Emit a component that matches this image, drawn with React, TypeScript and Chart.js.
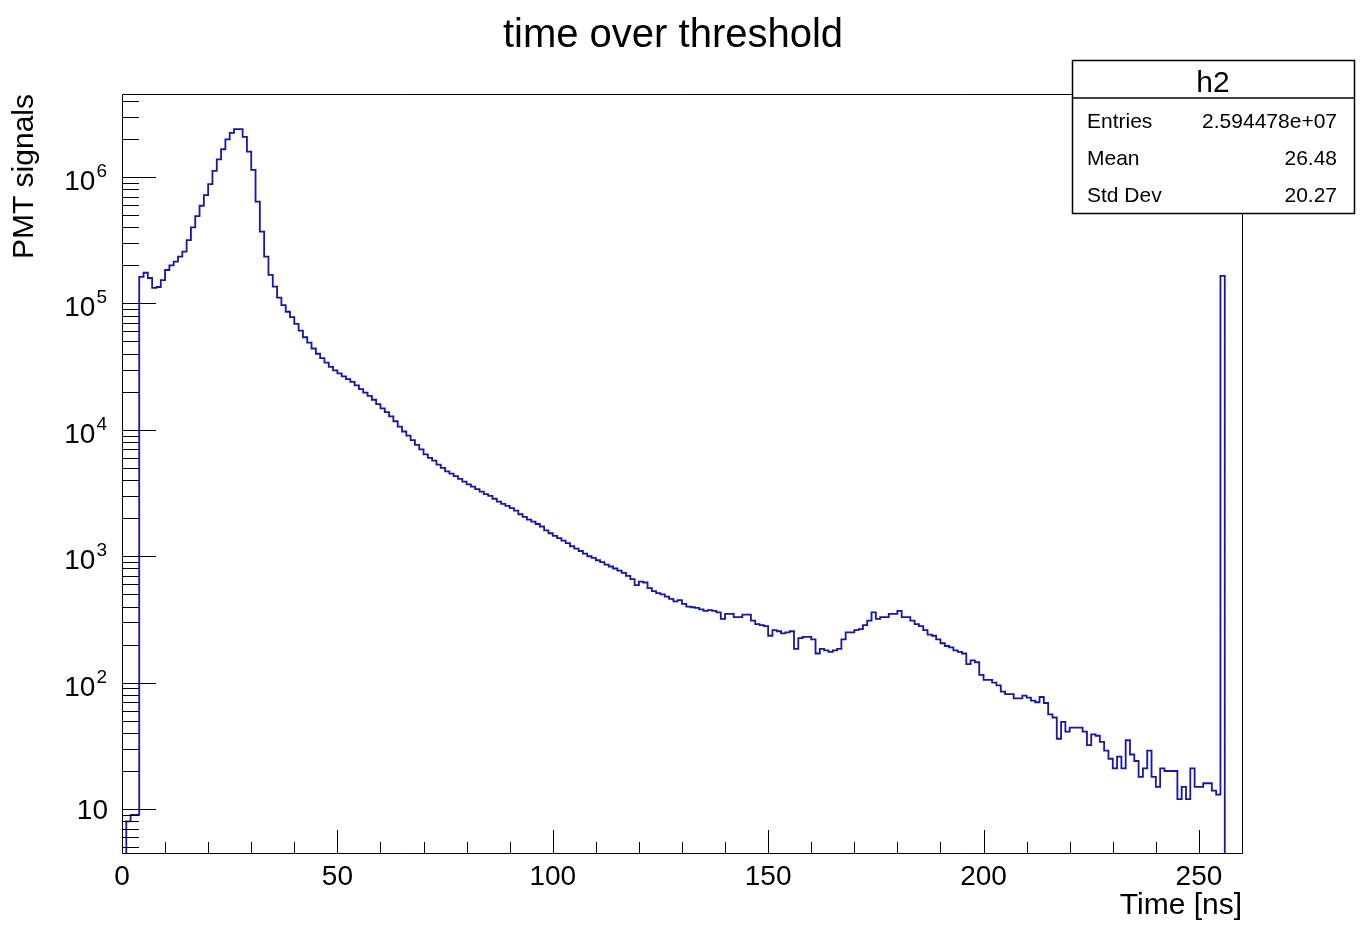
import React, { useEffect, useRef } from "react";
import { Chart, registerables } from "chart.js";

Chart.register(...registerables);

// ---------- data ----------
const chartTitle = "time over threshold";
const xAxisTitle = "Time [ns]";
const yAxisTitle = "PMT signals";
const xMin = 0;
const xMax = 260;
const yMin = 4.49;
const yMax = 4.54e6;
const binWidth = 1;
const xLabelTicks = [0, 50, 100, 150, 200, 250];
const xMinorStep = 10;
const yDecadeExponents = [1, 2, 3, 4, 5, 6];
const statsName = "h2";
const statsLabels = ["Entries", "Mean", "Std Dev"];
const statsValues = ["2.594478e+07", "26.48", "20.27"];

// counts per 1 ns bin, bins 0..259
const counts = [
  0, 8, 9, 9, 1.62e5, 1.75e5, 1.59e5, 1.33e5, 1.35e5, 1.53e5,
  1.84e5, 2.0e5, 2.14e5, 2.35e5, 2.57e5, 3.17e5, 4.0e5, 4.9e5, 5.93e5, 7.2e5,
  8.8e5, 1.12e6, 1.38e6, 1.66e6, 1.99e6, 2.24e6, 2.39e6, 2.39e6, 2.08e6, 1.59e6,
  1.14e6, 6.4e5, 3.7e5, 2.35e5, 1.68e5, 1.36e5, 1.11e5, 9.7e4, 8.6e4, 7.8e4,
  6.9e4, 6.1e4, 5.4e4, 4.9e4, 4.4e4, 4.0e4, 3.7e4, 3.4e4, 3.15e4, 2.95e4,
  2.8e4, 2.65e4, 2.52e4, 2.4e4, 2.25e4, 2.1e4, 1.97e4, 1.86e4, 1.73e4, 1.6e4,
  1.48e4, 1.38e4, 1.28e4, 1.17e4, 1.06e4, 9.7e3, 9.0e3, 8.3e3, 7.6e3, 7.0e3,
  6.4e3, 6.0e3, 5.7e3, 5.3e3, 5.0e3, 4.7e3, 4.5e3, 4.3e3, 4.1e3, 3.9e3,
  3.7e3, 3.55e3, 3.4e3, 3.25e3, 3.1e3, 3.0e3, 2.85e3, 2.7e3, 2.6e3, 2.5e3,
  2.4e3, 2.3e3, 2.15e3, 2.05e3, 1.95e3, 1.88e3, 1.8e3, 1.72e3, 1.6e3, 1.52e3,
  1.45e3, 1.39e3, 1.33e3, 1.27e3, 1.2e3, 1.15e3, 1.1e3, 1.05e3, 1.0e3, 970,
  930, 900, 860, 830, 800, 770, 740, 700, 660, 590,
  630, 620, 560, 530, 510, 500, 480, 460, 440, 450,
  420, 400, 395, 390, 380, 370, 375, 370, 360, 320,
  350, 350, 330, 330, 345, 345, 310, 290, 285, 280,
  235, 260, 255, 245, 250, 255, 185, 225, 230, 230,
  220, 170, 185, 180, 175, 180, 185, 220, 250, 250,
  260, 265, 285, 310, 360, 320, 330, 330, 350, 350,
  370, 330, 330, 310, 290, 280, 260, 240, 235, 220,
  205, 195, 190, 180, 175, 170, 140, 150, 145, 115,
  105, 105, 100, 95, 85, 81, 81, 75, 75, 79,
  76, 72, 70, 77, 69, 56, 53, 36, 49, 41,
  44, 44, 44, 41, 32, 39, 38, 34, 29, 25,
  21, 26, 21, 35, 27, 24, 18, 21, 29, 18,
  15, 21, 20, 20, 20, 12, 15, 12, 21, 15,
  15, 16, 16, 14, 13, 1.65e5, 0, 0, 0, 0,
];

const FONT = "'Liberation Sans', Arial, Helvetica, sans-serif";
const LINE_BLUE = "#1616aa";

const rootStylePlugin = {
  id: "rootStyle",
  afterDraw(chart: any) {
    const ctx: CanvasRenderingContext2D = chart.ctx;
    const { left, right, top, bottom } = chart.chartArea;
    const xs = chart.scales.x;
    const ys = chart.scales.y;
    ctx.save();
    ctx.strokeStyle = "#000";
    ctx.fillStyle = "#000";
    ctx.lineWidth = 1;

    // frame
    ctx.beginPath();
    ctx.rect(Math.round(left) + 0.5, Math.round(top) + 0.5, Math.round(right - left), Math.round(bottom - top));
    ctx.stroke();

    // x ticks (inside, upward)
    ctx.beginPath();
    for (let v = xMin; v <= xMax; v += xMinorStep) {
      const px = Math.round(xs.getPixelForValue(v)) + 0.5;
      const major = xLabelTicks.includes(v);
      const len = major ? 23 : 11;
      ctx.moveTo(px, bottom);
      ctx.lineTo(px, bottom - len);
    }
    ctx.stroke();

    // y ticks (inside, rightward)
    ctx.beginPath();
    for (let d = 0; d <= 6; d++) {
      for (let m = 1; m <= 9; m++) {
        const v = m * Math.pow(10, d);
        if (v < yMin || v > yMax) continue;
        const py = Math.round(ys.getPixelForValue(v)) + 0.5;
        const len = m === 1 ? 34 : 17;
        ctx.moveTo(left, py);
        ctx.lineTo(left + len, py);
      }
    }
    ctx.stroke();

    // x labels
    ctx.font = `28px ${FONT}`;
    ctx.textAlign = "center";
    ctx.textBaseline = "alphabetic";
    for (const v of xLabelTicks) {
      ctx.fillText(String(v), xs.getPixelForValue(v), 885);
    }

    // y labels
    const labelRight = 107;
    for (const e of yDecadeExponents) {
      const py = ys.getPixelForValue(Math.pow(10, e));
      if (e === 1) {
        ctx.font = `28px ${FONT}`;
        ctx.textAlign = "right";
        ctx.fillText("10", labelRight + 1, py + 10);
      } else {
        ctx.font = `19px ${FONT}`;
        const es = String(e);
        const ew = ctx.measureText(es).width;
        ctx.textAlign = "left";
        ctx.fillText(es, labelRight - ew, py);
        ctx.font = `28px ${FONT}`;
        ctx.textAlign = "right";
        ctx.fillText("10", labelRight - ew - 1, py + 13);
      }
    }

    // title
    ctx.font = `40px ${FONT}`;
    ctx.textAlign = "center";
    ctx.fillText(chartTitle, 673, 47);

    // x axis title
    ctx.font = `30px ${FONT}`;
    ctx.textAlign = "right";
    ctx.textBaseline = "middle";
    ctx.fillText(xAxisTitle, right, 906);

    // y axis title
    ctx.save();
    ctx.translate(25, top);
    ctx.rotate(-Math.PI / 2);
    ctx.textAlign = "right";
    ctx.textBaseline = "middle";
    ctx.fillText(yAxisTitle, 0, 0);
    ctx.restore();

    // stats box
    const bx = 1072.5, by = 60.5, bw = 282, bh = 153;
    ctx.fillStyle = "#fff";
    ctx.fillRect(bx, by, bw, bh);
    ctx.strokeStyle = "#000";
    ctx.lineWidth = 1.5;
    ctx.strokeRect(bx, by, bw, bh);
    ctx.beginPath();
    ctx.moveTo(bx, 98);
    ctx.lineTo(bx + bw, 98);
    ctx.stroke();
    ctx.fillStyle = "#000";
    ctx.font = `30px ${FONT}`;
    ctx.textAlign = "center";
    ctx.textBaseline = "alphabetic";
    ctx.fillText(statsName, 1213, 92);
    ctx.font = `21px ${FONT}`;
    const rowY = [128, 165, 202];
    statsLabels.forEach((lab, i) => {
      ctx.textAlign = "left";
      ctx.fillText(lab, 1087, rowY[i]);
      ctx.textAlign = "right";
      ctx.fillText(statsValues[i], 1337, rowY[i]);
    });

    ctx.restore();
  },
};

export default function App() {
  const canvasRef = useRef<HTMLCanvasElement | null>(null);

  useEffect(() => {
    document.body.style.margin = "0";
    const canvas = canvasRef.current;
    if (!canvas) return;

    const floorVal = 1e-2; // empty bins drop below the axis
    // point i sits at the left edge of bin i; the last point closes the final bin
    const points = counts.map((c, i) => ({ x: xMin + i * binWidth, y: c > 0 ? c : floorVal }));
    const last = counts[counts.length - 1];
    points.push({ x: xMin + counts.length * binWidth, y: last > 0 ? last : floorVal });

    const chart = new Chart(canvas, {
      type: "line",
      data: {
        datasets: [
          {
            data: points,
            stepped: "before",
            borderColor: LINE_BLUE,
            borderWidth: 1.8,
            pointRadius: 0,
            fill: false,
            tension: 0,
          },
        ],
      },
      options: {
        responsive: false,
        animation: false,
        devicePixelRatio: 1,
        layout: { padding: { left: 122, right: 126, top: 94, bottom: 73 } },
        plugins: {
          legend: { display: false },
          tooltip: { enabled: false },
          title: { display: false },
        },
        scales: {
          x: { type: "linear", min: xMin, max: xMax, display: false },
          y: { type: "logarithmic", min: yMin, max: yMax, display: false },
        },
      },
      plugins: [rootStylePlugin],
    } as any);

    return () => chart.destroy();
  }, []);

  return (
    <div style={{ width: 1368, height: 926, background: "#fff" }}>
      <canvas ref={canvasRef} width={1368} height={926} style={{ display: "block" }} />
    </div>
  );
}
